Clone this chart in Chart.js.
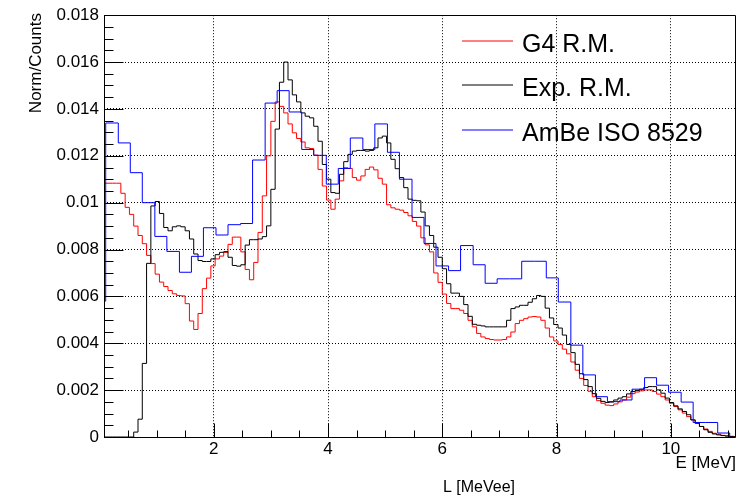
<!DOCTYPE html>
<html><head><meta charset="utf-8">
<script src="https://cdn.jsdelivr.net/npm/chart.js@4.4.1/dist/chart.umd.min.js"></script>
<style>html,body{margin:0;padding:0;background:#fff;}canvas{display:block;}</style>
</head><body>
<canvas id="c" width="738" height="498"></canvas>
<script>
// ---------------- data ----------------
const seriesNames = ['G4 R.M.', 'Exp. R.M.', 'AmBe ISO 8529'];
const seriesColors = ['#ff0000', '#000000', '#0000ff'];
const fineBinStart = 0.075;
const fineBinWidth = 0.075;
const g4Values = [
 0.01083,0.01083,0.01083,0.01083,0.01040,0.00980,0.00950,0.00900,0.00860,0.00825,
 0.00775,0.00740,0.00695,0.00661,0.00642,0.00625,0.00611,0.00604,0.00602,0.00569,
 0.00495,0.00459,0.00527,0.00633,0.00678,0.00730,0.00760,0.00772,0.00788,0.00822,
 0.00853,0.00853,0.00790,0.00715,0.00671,0.00745,0.00873,0.01029,0.01200,0.01347,
 0.01430,0.01411,0.01383,0.01336,0.01298,0.01274,0.01259,0.01234,0.01231,0.01203,
 0.01142,0.01071,0.01011,0.00972,0.01015,0.01093,0.01149,0.01146,0.01107,0.01096,
 0.01114,0.01142,0.01152,0.01140,0.01104,0.01079,0.00991,0.00978,0.00972,0.00968,
 0.00958,0.00944,0.00920,0.00900,0.00850,0.00820,0.00790,0.00700,0.00660,0.00610,
 0.00570,0.00548,0.00548,0.00541,0.00527,0.00498,0.00470,0.00442,0.00427,0.00420,
 0.00416,0.00414,0.00414,0.00416,0.00427,0.00448,0.00484,0.00498,0.00505,0.00512,
 0.00514,0.00512,0.00498,0.00465,0.00427,0.00410,0.00395,0.00375,0.00355,0.00320,
 0.00285,0.00250,0.00220,0.00195,0.00172,0.00155,0.00144,0.00136,0.00134,0.00141,
 0.00150,0.00158,0.00170,0.00185,0.00192,0.00197,0.00201,0.00201,0.00194,0.00183,
 0.00172,0.00158,0.00144,0.00130,0.00116,0.00102,0.00087,0.00073,0.00059,0.00045,
 0.00034,0.00024,0.00016,0.00012,0.00007,0.00005,0.00003,0.00002
];
const expValues = [
 0,0,0,0,0,0,0,0.00021,0.00076,0.00314,
 0.00741,0.00986,0.01005,0.00954,0.00894,0.00880,0.00897,0.00901,0.00897,0.00880,
 0.00845,0.00781,0.00753,0.00749,0.00749,0.00760,0.00778,0.00788,0.00791,0.00767,
 0.00732,0.00729,0.00735,0.00819,0.00842,0.00842,0.00845,0.00855,0.00901,0.01057,
 0.01314,0.01514,0.01600,0.01524,0.01460,0.01430,0.01383,0.01369,0.01362,0.01326,
 0.01262,0.01163,0.01100,0.01043,0.01040,0.01121,0.01175,0.01206,0.01220,0.01223,
 0.01223,0.01220,0.01223,0.01234,0.01276,0.01284,0.01255,0.01185,0.01145,0.01107,
 0.01064,0.01015,0.01010,0.01008,0.00960,0.00901,0.00860,0.00810,0.00767,0.00718,
 0.00654,0.00614,0.00614,0.00600,0.00565,0.00515,0.00481,0.00477,0.00474,0.00470,
 0.00470,0.00470,0.00470,0.00470,0.00498,0.00548,0.00555,0.00562,0.00562,0.00575,
 0.00590,0.00604,0.00600,0.00550,0.00508,0.00480,0.00465,0.00435,0.00395,0.00360,
 0.00310,0.00270,0.00245,0.00215,0.00185,0.00165,0.00152,0.00147,0.00149,0.00158,
 0.00166,0.00172,0.00184,0.00194,0.00198,0.00204,0.00211,0.00215,0.00215,0.00201,
 0.00187,0.00166,0.00147,0.00133,0.00120,0.00109,0.00095,0.00073,0.00059,0.00045,
 0.00031,0.00020,0.00013,0.00009,0.00006,0.00004,0.00002,0.00001
];
const isoEdges = [0,0.11,0.33,0.54,0.75,0.97,1.18,1.40,1.61,1.82,2.04,2.25,2.47,2.68,2.90,3.11,3.32,3.54,
 3.75,3.97,4.18,4.39,4.61,4.82,5.04,5.25,5.47,5.68,5.89,6.11,6.32,6.54,6.75,6.96,7.18,7.39,7.61,7.82,
 8.03,8.25,8.46,8.68,8.89,9.11,9.32,9.54,9.75,9.96,10.18,10.39,10.61,10.82,11.03];
const isoValues = [
 0.00580,0.01340,0.01255,0.01128,0.01000,0.00856,0.00792,0.00703,0.00771,0.00893,
 0.00862,0.00906,0.00911,0.01182,0.01425,0.01478,0.01387,0.01227,0.01202,0.01079,
 0.01146,0.01276,0.01227,0.01336,0.01215,0.01100,0.00937,0.00826,0.00730,0.00710,
 0.00817,0.00735,0.00656,0.00675,0.00675,0.00750,0.00750,0.00679,0.00576,0.00392,
 0.00265,0.00172,0.00151,0.00158,0.00204,0.00253,0.00221,0.00191,0.00149,0.00062,
 0.00062,0.00017
];
const xTickValues = [2, 4, 6, 8, 10];
const xTickLabels = ['2', '4', '6', '8', '10'];
const yTickValues = [0, 0.002, 0.004, 0.006, 0.008, 0.010, 0.012, 0.014, 0.016, 0.018];
const yTickLabels = ['0', '0.002', '0.004', '0.006', '0.008', '0.01', '0.012', '0.014', '0.016', '0.018'];
const xRange = [0.08, 11.14];
const yRange = [0, 0.018];
const xTitle = 'E [MeV]';
const xTitle2 = 'L [MeVee]';
const yTitle = 'Norm/Counts';

// ---------------- helpers ----------------
const fineEdges = [];
for (let i = 0; i <= g4Values.length; i++) fineEdges.push(+(fineBinStart + i * fineBinWidth).toFixed(4));
function histPoints(edges, values, closeToZero) {
  const pts = values.map((v, i) => ({x: edges[i], y: v}));
  pts.push({x: edges[values.length], y: values[values.length - 1]});
  if (closeToZero) pts.push({x: edges[values.length], y: 0});
  return pts;
}
const FONT = '"Liberation Sans", Arial, Helvetica, sans-serif';

const rootFrame = {
  id: 'rootFrame',
  afterDatasetsDraw(chart) {
    const {ctx, chartArea: a, scales: {x, y}} = chart;
    const L = Math.round(a.left) + 0.5, T = Math.round(a.top) + 0.5;
    const B = Math.round(a.bottom) + 0.5, R = Math.round(a.right) - 0.5;
    ctx.save();
    ctx.strokeStyle = '#000';
    ctx.lineWidth = 1;
    ctx.setLineDash([]);
    ctx.beginPath();
    ctx.moveTo(L, T); ctx.lineTo(R, T); ctx.lineTo(R, B); ctx.lineTo(L, B); ctx.closePath();
    for (let j = 1; j * 0.5 < xRange[1]; j++) {
      const px = Math.round(x.getPixelForValue(j * 0.5)) + 0.5;
      const len = (j % 4 === 0) ? 14 : 7;
      ctx.moveTo(px, B); ctx.lineTo(px, B - len);
    }
    for (let j = 0; j * 0.0005 <= yRange[1] + 1e-9; j++) {
      const py = Math.round(y.getPixelForValue(j * 0.0005)) + 0.5;
      const len = (j % 4 === 0) ? 19 : 9;
      ctx.moveTo(L, py); ctx.lineTo(L + len, py);
    }
    ctx.stroke();
    ctx.restore();

    ctx.save();
    ctx.fillStyle = '#000';
    ctx.textBaseline = 'alphabetic';
    ctx.font = '17px ' + FONT;
    ctx.textAlign = 'right';
    ctx.fillText(xTitle, 736, 468);
    ctx.font = '16px ' + FONT;
    ctx.textAlign = 'left';
    ctx.fillText(xTitle2, 443, 492);
    ctx.translate(41, 13);
    ctx.rotate(-Math.PI / 2);
    ctx.font = '17px ' + FONT;
    ctx.textAlign = 'right';
    ctx.fillText(yTitle, 0, 0);
    ctx.restore();

    // legend: transparent, no border
    const rowsY = [41, 85, 130];
    ctx.save();
    seriesNames.forEach((name, i) => {
      ctx.strokeStyle = seriesColors[i];
      ctx.lineWidth = 1;
      ctx.beginPath(); ctx.moveTo(462, rowsY[i]); ctx.lineTo(513, rowsY[i]); ctx.stroke();
      ctx.fillStyle = '#000';
      ctx.font = '25px ' + FONT;
      ctx.textAlign = 'left';
      ctx.textBaseline = 'alphabetic';
      ctx.fillText(name, 522, rowsY[i] + 11);
    });
    ctx.restore();
  }
};

const commonDs = {stepped: 'before', pointRadius: 0, borderWidth: 1, fill: false, tension: 0};
new Chart(document.getElementById('c'), {
  type: 'line',
  data: {
    datasets: [
      Object.assign({label: seriesNames[0], data: histPoints(fineEdges, g4Values, false), borderColor: seriesColors[0], order: 3}, commonDs),
      Object.assign({label: seriesNames[1], data: histPoints(fineEdges, expValues, false), borderColor: seriesColors[1], order: 2}, commonDs),
      Object.assign({label: seriesNames[2], data: histPoints(isoEdges, isoValues, true), borderColor: seriesColors[2], order: 1}, commonDs)
    ]
  },
  options: {
    responsive: false,
    animation: false,
    devicePixelRatio: 1,
    layout: {padding: {top: 13, right: 2, left: 0, bottom: 0}},
    plugins: {legend: {display: false}, tooltip: {enabled: false}, title: {display: false}},
    scales: {
      x: {
        type: 'linear', min: xRange[0], max: xRange[1],
        afterBuildTicks: s => { s.ticks = xTickValues.map(v => ({value: v})); },
        afterFit: s => { s.height = 61; },
        ticks: {callback: (v, i) => xTickLabels[i], font: {family: FONT, size: 17}, color: '#000', padding: 2, maxRotation: 0, autoSkip: false},
        grid: {color: '#000', lineWidth: 1, drawTicks: false},
        border: {display: false, dash: [1, 2]}
      },
      y: {
        type: 'linear', min: yRange[0], max: yRange[1],
        afterBuildTicks: s => { s.ticks = yTickValues.map(v => ({value: v})); },
        afterFit: s => { s.width = 104; },
        ticks: {callback: (v, i) => yTickLabels[i], font: {family: FONT, size: 17}, color: '#000', padding: 5, autoSkip: false},
        grid: {color: '#000', lineWidth: 1, drawTicks: false},
        border: {display: false, dash: [1, 2]}
      }
    }
  },
  plugins: [rootFrame]
});
</script>
</body></html>
